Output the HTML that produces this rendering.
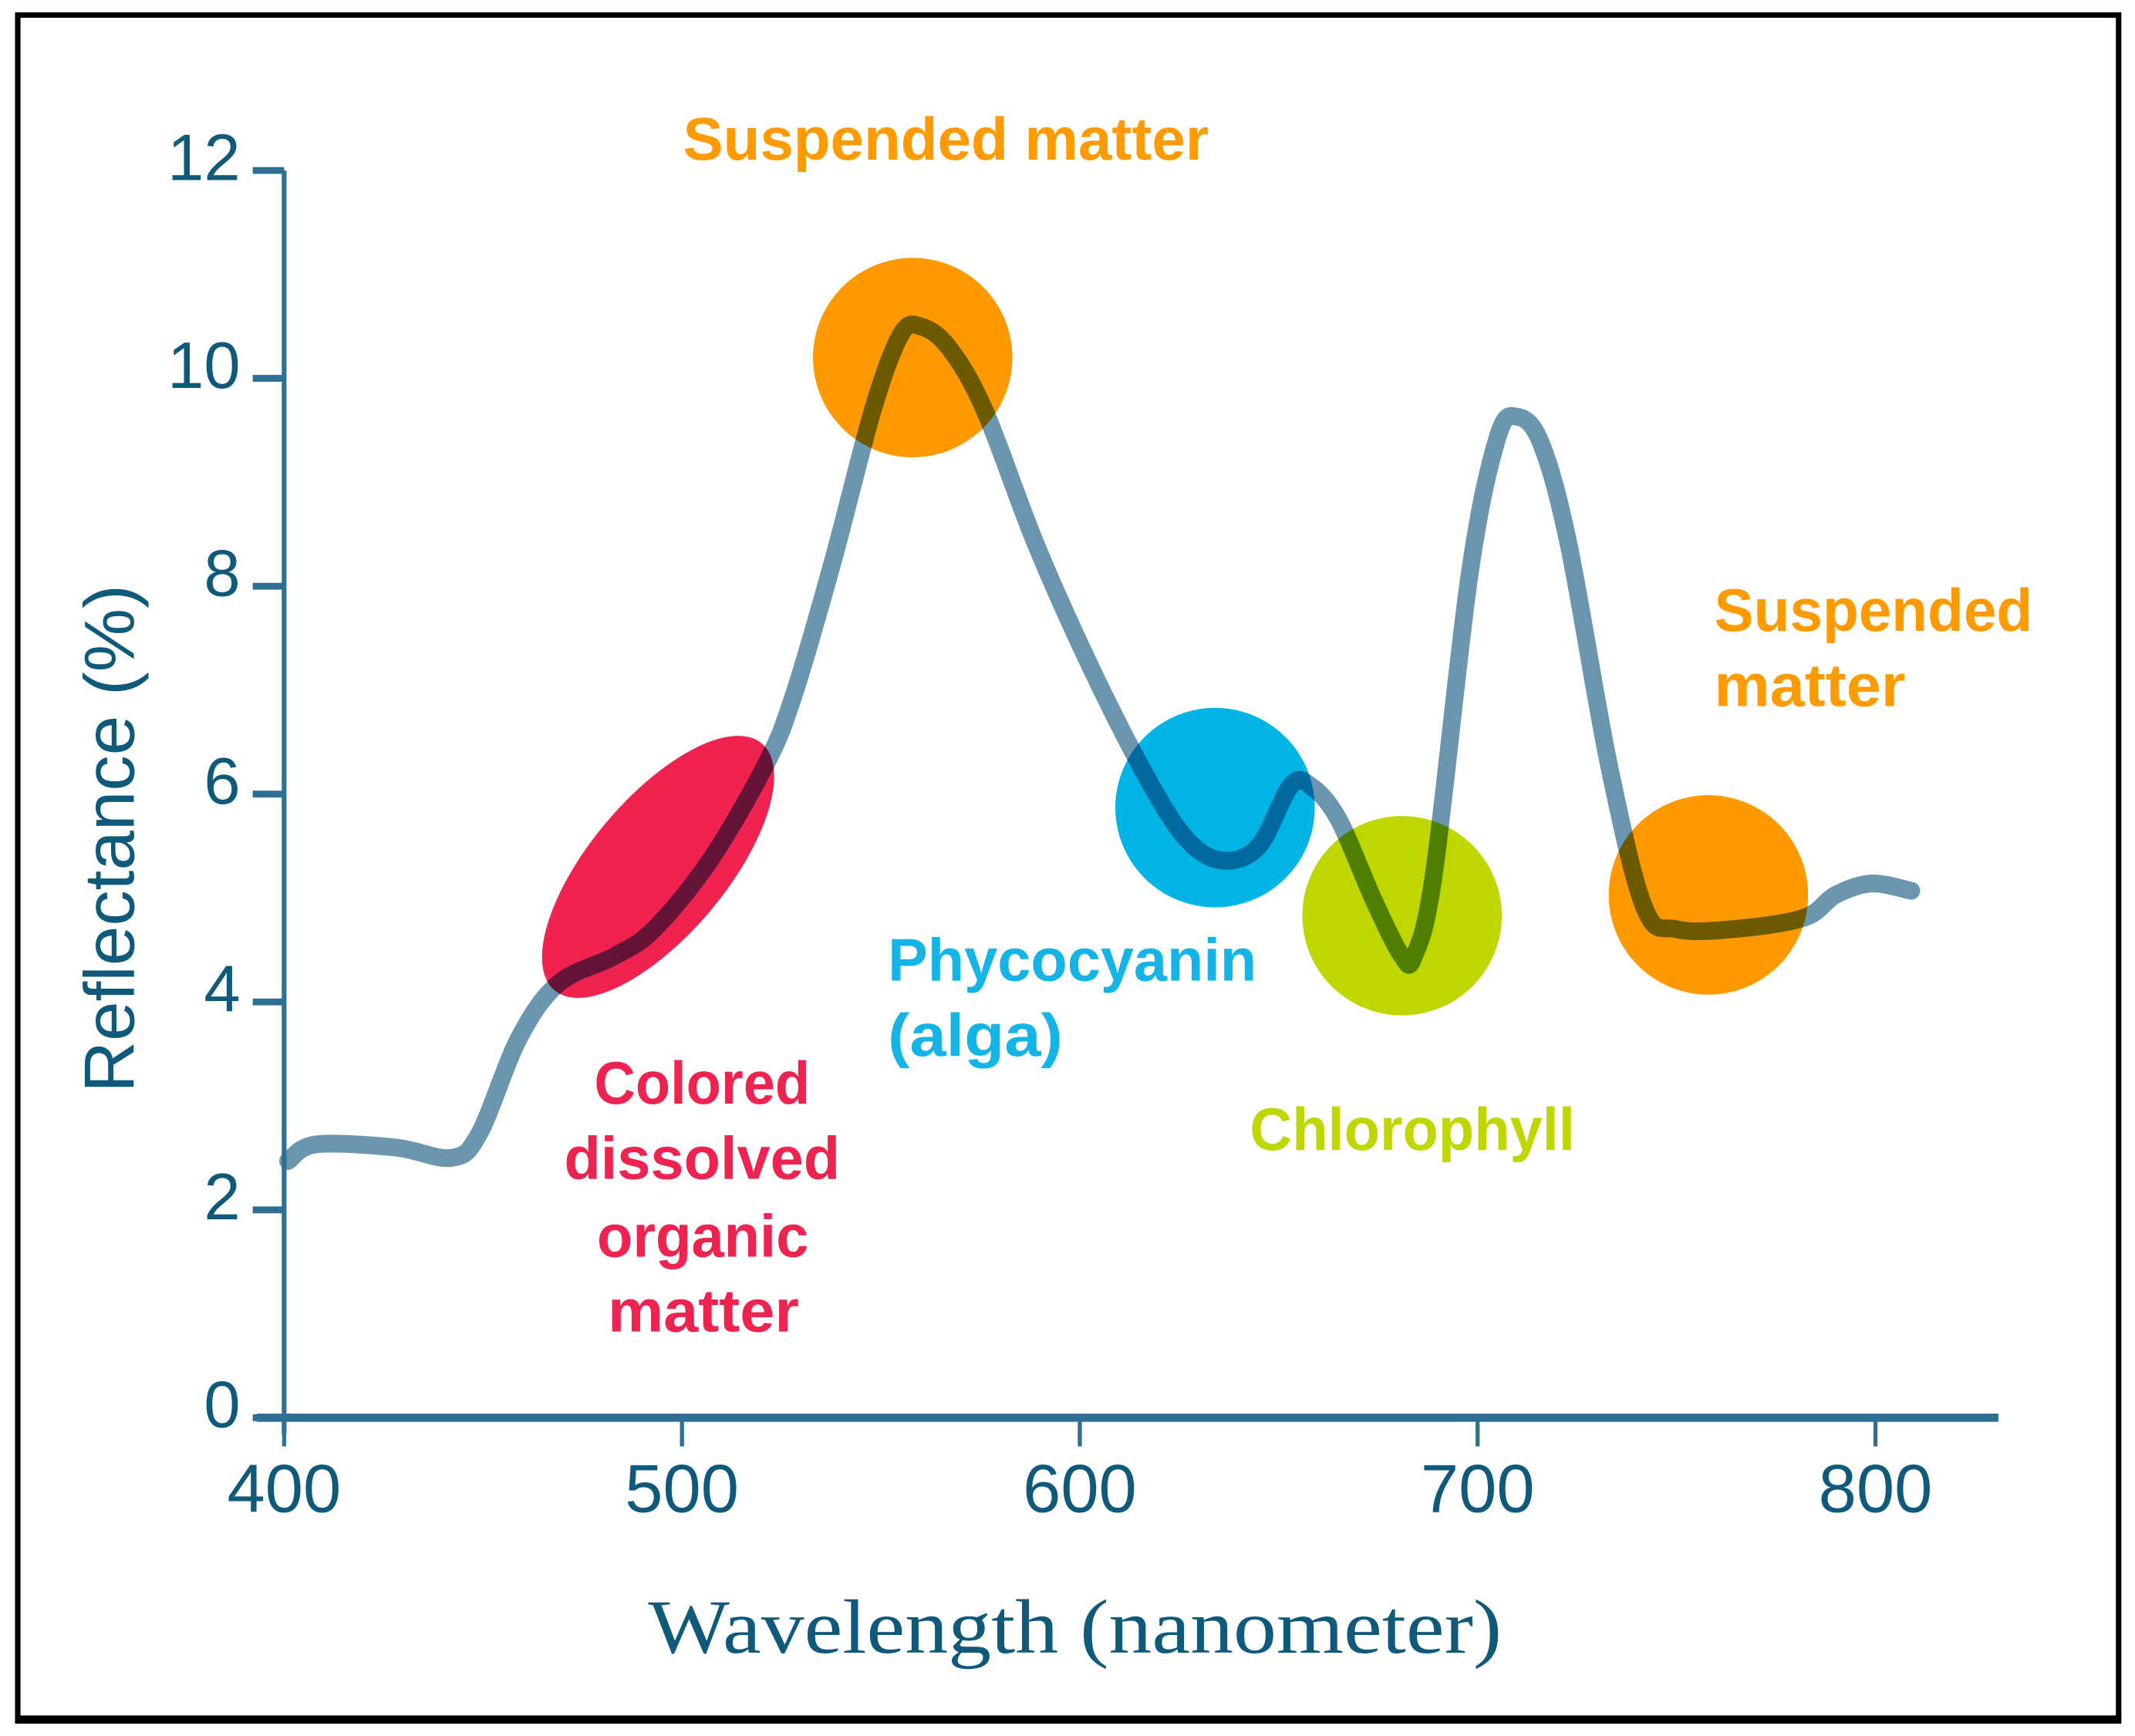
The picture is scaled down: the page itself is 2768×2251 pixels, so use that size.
<!DOCTYPE html>
<html><head><meta charset="utf-8"><style>
html,body{margin:0;padding:0;background:#fff;}
svg{display:block;}
.cond{font-family:"Liberation Sans Narrow","Liberation Sans",sans-serif;font-weight:bold;}
</style></head><body>
<svg id="chart" width="2768" height="2251" viewBox="0 0 1563 1271" xmlns="http://www.w3.org/2000/svg">
<rect x="13" y="11" width="1538" height="1248" fill="#fff" stroke="#000" stroke-width="4"/>
<line x1="11" y1="1259" x2="1553" y2="1259" stroke="#000" stroke-width="6"/>
<g id="marks"></g>
<g id="axes"></g>
<text x="787" y="1210" text-anchor="middle" font-family="Liberation Serif, serif" font-size="56" fill="#0f5a7a" textLength="625" lengthAdjust="spacingAndGlyphs">Wavelength (nanometer)</text>
<text transform="translate(98,614) rotate(-90)" text-anchor="middle" font-family="Liberation Sans, sans-serif" font-size="52" fill="#0f5a7a" textLength="372" lengthAdjust="spacingAndGlyphs">Reflectance (%)</text>
<g class="cond" font-size="44">
<text x="500" y="117" fill="#ff9a00" textLength="385" lengthAdjust="spacingAndGlyphs">Suspended matter</text>
<text x="1255" y="462" fill="#ff9a00" textLength="233" lengthAdjust="spacingAndGlyphs">Suspended</text>
<text x="1255" y="517" fill="#ff9a00" textLength="140" lengthAdjust="spacingAndGlyphs">matter</text>
<text x="650" y="718" fill="#14b4e6" textLength="270" lengthAdjust="spacingAndGlyphs">Phycocyanin</text>
<text x="650" y="773" fill="#14b4e6" textLength="128" lengthAdjust="spacingAndGlyphs">(alga)</text>
<text x="915" y="842" fill="#bfd600" textLength="238" lengthAdjust="spacingAndGlyphs">Chlorophyll</text>
<text x="435" y="808" fill="#ef2350" textLength="158" lengthAdjust="spacingAndGlyphs">Colored</text>
<text x="413" y="863" fill="#ef2350" textLength="202" lengthAdjust="spacingAndGlyphs">dissolved</text>
<text x="437" y="920" fill="#ef2350" textLength="155" lengthAdjust="spacingAndGlyphs">organic</text>
<text x="445" y="975" fill="#ef2350" textLength="140" lengthAdjust="spacingAndGlyphs">matter</text>
</g>
</svg>
<script>
const wavelengths=[401,408,428,442,449,459,469,483,493,507,521,528,538,548,555,560,567,576,589,603,617,627,636,645,653,658,665,674,681,684,689,698,705,710,716,723,733,742,750,764,782,790,799,809];
const reflectance=[2.47,2.63,2.6,2.5,2.73,3.65,4.18,4.44,4.7,5.36,6.28,6.94,8.25,9.7,10.42,10.5,10.3,9.7,8.4,7.2,6.15,5.56,5.36,5.5,6.08,6.08,5.76,4.97,4.44,4.44,5.23,8.12,9.43,9.63,9.37,8.38,6.28,4.9,4.7,4.7,4.81,5.03,5.14,5.07];
const xTicks=[400,500,600,700,800];
const yTicks=[0,2,4,6,8,10,12];
const circleNames=['suspended-matter-circle-1','phycocyanin-circle','chlorophyll-circle','suspended-matter-circle-2'];
const circleX=[558,634,681,758];
const circleY=[10.2,5.87,4.83,5.03];
const circleColors=['#ff9900','#00b4e6','#bfd600','#ff9900'];
const cdomX=[494];const cdomY=[5.3];

const NS='http://www.w3.org/2000/svg';
const sx=w=>208+(w-400)*2.9125;
const sy=v=>1038-v*76.1;
const marks=document.getElementById('marks'),axes=document.getElementById('axes');
function mk(tag,attrs,parent){const e=document.createElementNS(NS,tag);for(const k in attrs)e.setAttribute(k,attrs[k]);parent.appendChild(e);return e;}

const el=mk('ellipse',{cx:sx(cdomX[0]),cy:sy(cdomY[0]),rx:118,ry:50,fill:'#f0224f',transform:`rotate(-50 ${sx(cdomX[0])} ${sy(cdomY[0])})`},marks);


circleX.forEach((w,i)=>{
  const c=mk('circle',{cx:sx(w),cy:sy(circleY[i]),r:73,fill:circleColors[i]},marks);
  
  
});
const pts=wavelengths.map((w,i)=>[sx(w),sy(reflectance[i])]);
let d=`M${pts[0][0]},${pts[0][1]}`;
for(let i=0;i<pts.length-1;i++){
  const p0=pts[Math.max(0,i-1)],p1=pts[i],p2=pts[i+1],p3=pts[Math.min(pts.length-1,i+2)];
  const c1=[p1[0]+(p2[0]-p0[0])/6,p1[1]+(p2[1]-p0[1])/6],c2=[p2[0]-(p3[0]-p1[0])/6,p2[1]-(p3[1]-p1[1])/6];
  d+=` C${c1[0]},${c1[1]} ${c2[0]},${c2[1]} ${p2[0]},${p2[1]}`;
}
const line=mk('path',{d:d,fill:'none',stroke:'#6b96b0',"stroke-width":13,"stroke-linecap":"round","stroke-linejoin":"round",style:'mix-blend-mode:multiply'},marks);



const ya=mk('line',{x1:208,y1:sy(12),x2:208,y2:1050,stroke:'#2e6f92',"stroke-width":3.5},axes);


const xa=mk('line',{x1:188,y1:1038,x2:1463,y2:1038,stroke:'#2e6f92',"stroke-width":6},axes);


yTicks.forEach(v=>{
  const t=mk('line',{x1:185,y1:sy(v),x2:208,y2:sy(v),stroke:'#2e6f92',"stroke-width":5},axes);
  
  
  const l=mk('text',{x:176,y:sy(v)+7,"text-anchor":"end","font-family":"Liberation Sans Narrow, Liberation Sans, sans-serif","font-size":48,fill:'#0f5a7a'},axes);
  l.textContent=v;
  
  
});
xTicks.forEach(w=>{
  const t=mk('line',{x1:sx(w),y1:1038,x2:sx(w),y2:1059,stroke:'#2e6f92',"stroke-width":3},axes);
  
  
  const l=mk('text',{x:sx(w),y:1107,"text-anchor":"middle","font-family":"Liberation Sans Narrow, Liberation Sans, sans-serif","font-size":50,fill:'#0f5a7a'},axes);
  l.textContent=w;
  
  
});
</script>
</body></html>
